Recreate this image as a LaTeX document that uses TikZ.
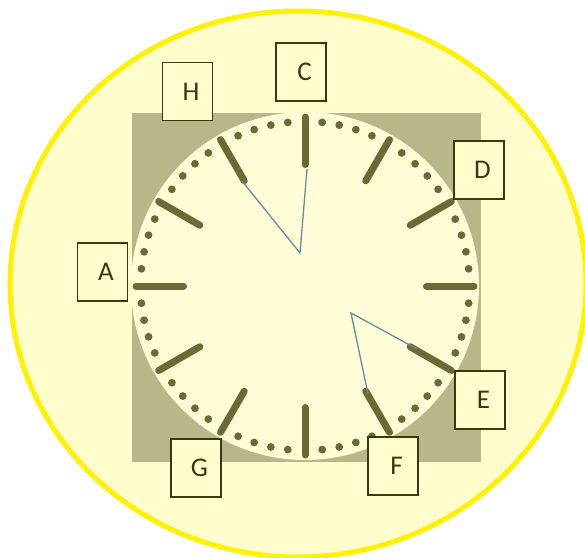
\documentclass[tikz,border=0pt]{standalone}
\usepackage{fontspec}
\setmainfont{Carlito}
\usepackage{tikz}

\definecolor{cream}{HTML}{FFFDCC}
\definecolor{faceclr}{HTML}{FFFDD6}
\definecolor{olivebg}{HTML}{B9B687}
\definecolor{tickclr}{HTML}{6B6A34}
\definecolor{handclr}{HTML}{5E8FA6}
\definecolor{boxline}{HTML}{3A380C}

\begin{document}
\begin{tikzpicture}[x=1pt,y=-1pt,
  lbl/.style={draw=boxline,line width=1.6pt,fill=cream,minimum width=50pt,minimum height=58pt,inner sep=0pt,font=\fontsize{27}{30}\selectfont,text=boxline},
  hourtick/.style={tickclr,line width=7pt,line cap=round},
  hand/.style={handclr,line width=1.3pt}]
\useasboundingbox (0,0) rectangle (585,557);
\clip (0,0) rectangle (585,557);
\draw[yellow,line width=5pt,fill=cream] (298,284) ellipse [x radius=288,y radius=273];
\fill[olivebg] (132,113) rectangle (481,462);
\fill[faceclr] (305,286) circle [radius=174];
% hour ticks and minute dots
\begin{scope}[shift={(305,286)}]
\foreach \a in {0,30,...,330} {
   \draw[hourtick] (\a:121.5) -- (\a:169);
   \foreach \k in {6,12,18,24} {
      \fill[tickclr] (\a+\k:164.5) circle [radius=3.9];
   }
}
\end{scope}
% hands
\coordinate (p1) at (300,253);
\coordinate (p1a) at (307,169);
\coordinate (p1b) at (242,181);
\draw[hand] (p1b) -- (p1) -- (p1a);
\coordinate (p2) at (351,313);
\coordinate (p2a) at (417,349);
\coordinate (p2b) at (368,394);
\draw[hand] (p2b) -- (p2) -- (p2a);
% letter boxes
\foreach \n/\x/\y in %
{A/102.5/272,C/301/72,D/479/170,E/480/400,F/393/466,G/196/468,H/187.5/91.5} {
   \node[lbl] (\n) at (\x,\y) {\hspace*{7pt}\n};
}
\end{tikzpicture}
\end{document}
